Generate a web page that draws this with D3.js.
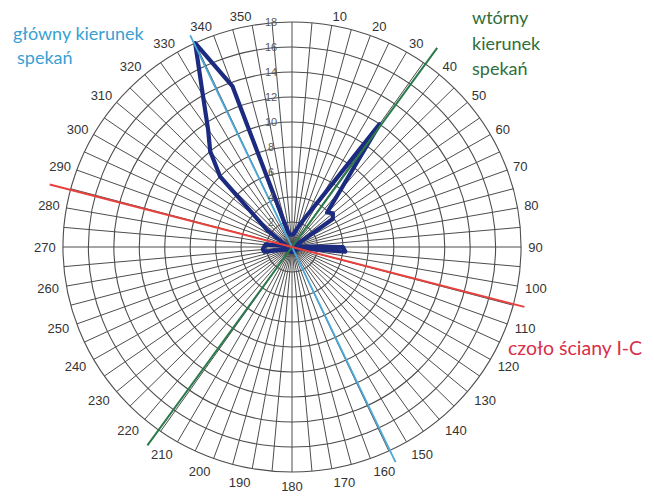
<!DOCTYPE html>
<html>
<head>
<meta charset="utf-8">
<script src="https://cdn.jsdelivr.net/npm/d3@7"></script>
<style>
  html, body { margin: 0; padding: 0; background: #fff; }
  svg { display: block; }
</style>
</head>
<body>
<svg id="chart" width="654" height="499"></svg>
<script>
// Fracture orientation rose: number of joints per 5° sector
const sectorStep = 5;
const sectorAngles = d3.range(0, 360, sectorStep);
const jointCounts = [
  1.0, 1.0, 1.2, 1.5, 2.0, 2.8, 4.4, 12.0, 5.9, 3.9, 4.2, 3.9,   //   0 –  55
  0.6, 0.4, 0.4, 0.3, 0.4, 0.5, 4.0, 4.2, 0.5, 0.4, 0.3, 0.4,   //  60 – 115
  0.3, 0.3, 0.4, 0.3, 0.3, 0.4, 0.3, 0.4, 0.3, 0.3, 0.4, 0.3,   // 120 – 175
  0.4, 0.3, 0.3, 0.4, 0.3, 0.3, 0.4, 0.3, 0.4, 0.3, 0.3, 0.4,   // 180 – 235
  0.4, 0.5, 0.6, 0.9, 2.2, 2.3, 2.2, 2.1, 0.6, 0.5, 0.6, 0.8,   // 240 – 295
  1.2, 2.4, 3.7, 8.0, 10.0, 11.5, 14.0, 18.0, 13.7, 1.3, 1.0, 1.0 // 300 – 355
];

// Axis ticks
const radialTicks = [2, 4, 6, 8, 10, 12, 14, 16, 18];
const angleLabels = [10, 20, 30, 40, 50, 60, 70, 80, 90, 100, 110, 120, 130, 140, 150, 160, 170,
                     180, 190, 200, 210, 220, 230, 240, 250, 260, 270, 280, 290, 300, 310, 320, 330, 340, 350];
const radialMax = 18;

// Interpreted directions (azimuth, degrees)
const mainDirection = 334.7;      // główny kierunek spekań
const secondaryDirection = 35.6;  // wtórny kierunek spekań
const wallFront = 104.7;          // czoło ściany I-C

const svg = d3.select("#chart");
const cx = 292, cy = 247;
const R = 225;
const sx = 1.018; // slight horizontal stretch of the polar frame

const r = d3.scaleLinear().domain([0, radialMax]).range([0, R]);
const toRad = d => d * Math.PI / 180;

const g = svg.append("g").attr("transform", `translate(${cx},${cy}) scale(${sx},1)`);

// Grid: spokes every 5°
g.append("g").selectAll("line")
  .data(sectorAngles)
  .join("line")
  .attr("x1", 0).attr("y1", 0)
  .attr("x2", d => d3.pointRadial(toRad(d), R)[0])
  .attr("y2", d => d3.pointRadial(toRad(d), R)[1])
  .attr("stroke", "#4d4d4d")
  .attr("stroke-width", 1)
  .attr("vector-effect", "non-scaling-stroke");

// Grid: rings
g.append("g").selectAll("circle")
  .data(radialTicks)
  .join("circle")
  .attr("r", d => r(d))
  .attr("fill", "none")
  .attr("stroke", "#4d4d4d")
  .attr("stroke-width", 1.1)
  .attr("vector-effect", "non-scaling-stroke");

// Radial tick labels along the north axis
svg.append("g").selectAll("text")
  .data(radialTicks)
  .join("text")
  .attr("x", cx - 21)
  .attr("y", d => cy - r(d) + 4)
  .attr("text-anchor", "middle")
  .attr("font-family", "Liberation Sans, Arial, sans-serif")
  .attr("font-size", 11)
  .attr("fill", "#5a5a5a")
  .text(d => d);

// Azimuth labels
svg.append("g").selectAll("text")
  .data(angleLabels)
  .join("text")
  .each(function(d) {
    const a = toRad(d);
    const s = Math.sin(a), c = Math.cos(a);
    const gap = 7 - 2.5 * c;
    const px = cx + (R + gap) * sx * s;
    const py = cy - (R + gap) * c;
    const anchor = s > 0.05 ? "start" : (s < -0.05 ? "end" : "middle");
    d3.select(this)
      .attr("x", px)
      .attr("y", py - 5 * c + 4.5)
      .attr("text-anchor", anchor);
  })
  .attr("font-family", "Liberation Sans, Arial, sans-serif")
  .attr("font-size", 13)
  .attr("fill", "#333")
  .text(d => d);

// Rose polygon
const rose = d3.lineRadial()
  .angle(d => toRad(d.angle))
  .radius(d => r(d.value))
  .curve(d3.curveLinearClosed);

const roseData = sectorAngles.map((a, i) => ({ angle: a, value: jointCounts[i] }));

g.append("path")
  .datum(roseData)
  .attr("d", rose)
  .attr("fill", "none")
  .attr("stroke", "#1c2b80")
  .attr("stroke-width", 4.2)
  .attr("stroke-linejoin", "round")
  .attr("vector-effect", "non-scaling-stroke");

// Direction lines through the centre
function directionLine(azimuth, ext1, ext2, color, width) {
  const p1 = d3.pointRadial(toRad(azimuth), ext1);
  const p2 = d3.pointRadial(toRad(azimuth + 180), ext2);
  g.append("line")
    .attr("x1", p1[0]).attr("y1", p1[1])
    .attr("x2", p2[0]).attr("y2", p2[1])
    .attr("stroke", color)
    .attr("stroke-width", width)
    .attr("vector-effect", "non-scaling-stroke");
}
directionLine(mainDirection, 234, 238, "#4aa8d8", 1.8);
directionLine(secondaryDirection, 245, 244, "#2a7a4c", 2);
directionLine(wallFront, 236, 246, "#e8403c", 2);

// Annotations
const ann = svg.append("g").attr("font-family", "Lato, 'Open Sans', sans-serif");
ann.append("text").attr("x", 13).attr("y", 40).attr("font-size", 18).attr("fill", "#3a9fd2").text("główny kierunek");
ann.append("text").attr("x", 17).attr("y", 64).attr("font-size", 18).attr("fill", "#3a9fd2").text("spekań");

ann.append("text").attr("x", 472).attr("y", 24).attr("font-size", 18).attr("fill", "#2f6e3b").text("wtórny");
ann.append("text").attr("x", 472).attr("y", 50).attr("font-size", 18).attr("fill", "#2f6e3b").text("kierunek");
ann.append("text").attr("x", 472).attr("y", 75).attr("font-size", 18).attr("fill", "#2f6e3b").text("spekań");

ann.append("text").attr("x", 508).attr("y", 355).attr("font-size", 19.5).attr("fill", "#d6304a").text("czoło ściany I-C");
</script>
</body>
</html>
